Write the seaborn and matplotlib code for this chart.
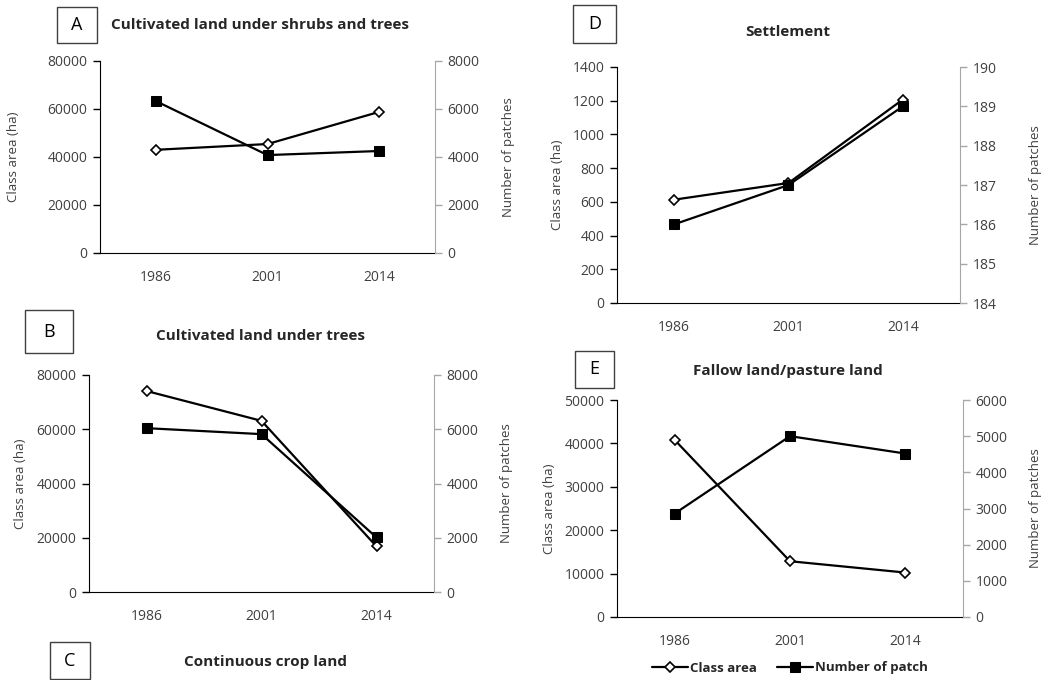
import matplotlib
matplotlib.use("Agg")
import matplotlib.pyplot as plt
from matplotlib.patches import Rectangle
import seaborn as sns
import numpy as np

sns.set_style("white")
plt.rcParams['font.family'] = ['Open Sans', 'DejaVu Sans']

years = ['1986', '2001', '2014']

# A: cultivated land under shrubs and trees
area_a = [43000, 45400, 58800]
patch_a = [6330, 4080, 4250]
# B: cultivated land under trees
area_b = [74100, 63100, 16800]
patch_b = [6040, 5820, 2010]
# D: settlement
area_d = [613, 712, 1207]
patch_d = [186.0, 187.0, 189.0]
# E: fallow land / pasture land
area_e = [40800, 12850, 10240]
patch_e = [2860, 5000, 4520]

W, H = 1047, 680
TXT = '#404040'
GREY = '#a6a6a6'

fig = plt.figure(figsize=(W / 100, H / 100), dpi=100)
fig.patch.set_facecolor('white')


def px_rect(x0, y0, x1, y1):
    # pixel box (top-left origin) -> figure fraction
    return [x0 / W, 1 - y1 / H, (x1 - x0) / W, (y1 - y0) / H]


def letter_box(x0, y0, x1, y1, letter):
    fig.add_artist(Rectangle((x0 / W, 1 - y1 / H), (x1 - x0) / W, (y1 - y0) / H,
                             transform=fig.transFigure, facecolor='white',
                             edgecolor=TXT, linewidth=1.0))
    fig.text((x0 + x1) / 2 / W, 1 - (y0 + y1) / 2 / H, letter, ha='center', va='center',
             fontsize=13, color='black')


def panel(rect, area, patches, ylim, yticks, ylim2, yticks2, lab_x, lab2_x):
    ax = fig.add_axes(rect)
    ax2 = ax.twinx()
    x = np.arange(len(years))
    sns.lineplot(x=x, y=area, ax=ax, color='black', linewidth=1.6, marker='D',
                 markersize=5, markerfacecolor='white', markeredgecolor='black',
                 markeredgewidth=1.2, label='Class area', legend=False)
    sns.lineplot(x=x, y=patches, ax=ax2, color='black', linewidth=1.6, marker='s',
                 markersize=7, markerfacecolor='black', markeredgecolor='black',
                 label='Number of patch', legend=False)
    ax.set_xlim(-0.5, len(years) - 0.5)
    ax.set_ylim(*ylim)
    ax.set_yticks(yticks)
    ax2.set_ylim(*ylim2)
    ax2.set_yticks(yticks2)
    ax.set_xticks(x)
    ax.set_xticklabels(years)
    ax.set_xticks(np.arange(-0.5, len(years), 1.0), minor=True)
    ax.tick_params(axis='x', which='major', length=0, pad=12, labelsize=10, labelcolor=TXT)
    ax.tick_params(axis='x', which='minor', length=5, direction='out', color='black', width=1)
    ax.tick_params(axis='y', length=5, direction='out', color='black', width=1,
                   labelsize=10, labelcolor=TXT, pad=4, left=True)
    ax2.tick_params(axis='y', length=5, direction='out', color=GREY, width=1,
                    labelsize=10, labelcolor=TXT, pad=4, right=True)
    for a in (ax, ax2):
        a.spines['top'].set_visible(False)
        a.grid(False)
    ax.spines['right'].set_visible(False)
    ax2.spines['left'].set_visible(False)
    ax2.spines['bottom'].set_visible(False)
    ax2.spines['right'].set_color(GREY)
    ax.spines['left'].set_color('black')
    ax.spines['bottom'].set_color('black')
    ax.set_ylabel('Class area (ha)', fontsize=9.5, color=TXT)
    ax2.set_ylabel('Number of patches', fontsize=9.5, color=TXT)
    ax.yaxis.set_label_coords(lab_x, 0.5)
    ax2.yaxis.set_label_coords(lab2_x, 0.5)
    return ax, ax2


# panel A
panel(px_rect(100, 61, 435, 253), area_a, patch_a, (0, 80000), np.arange(0, 80001, 20000),
      (0, 8000), np.arange(0, 8001, 2000), -0.24, 1.2)
letter_box(57, 7, 97, 43, 'A')
fig.text(260 / W, 1 - 25 / H, 'Cultivated land under shrubs and trees', ha='center', va='center',
         fontsize=11, fontweight='bold')

# panel B
panel(px_rect(89, 375, 434, 592), area_b, patch_b, (0, 80000), np.arange(0, 80001, 20000),
      (0, 8000), np.arange(0, 8001, 2000), -0.18, 1.19)
letter_box(25, 310, 73, 353, 'B')
fig.text(261 / W, 1 - 336 / H, 'Cultivated land under trees', ha='center', va='center',
         fontsize=11, fontweight='bold')

# panel C (title only)
letter_box(50, 642, 90, 679, 'C')
fig.text(266 / W, 1 - 662 / H, 'Continuous crop land', ha='center', va='center',
         fontsize=11, fontweight='bold')

# panel D
panel(px_rect(617, 67, 960, 303), area_d, patch_d, (0, 1400), np.arange(0, 1401, 200),
      (184, 190), np.arange(184, 191, 1), -0.155, 1.2)
letter_box(573, 5, 616, 43, 'D')
fig.text(788 / W, 1 - 32 / H, 'Settlement', ha='center', va='center',
         fontsize=11, fontweight='bold')

# panel E
axE, axE2 = panel(px_rect(617, 400, 963, 617), area_e, patch_e, (0, 50000), np.arange(0, 50001, 10000),
                  (0, 6000), np.arange(0, 6001, 1000), -0.175, 1.19)
letter_box(575, 351, 614, 388, 'E')
fig.text(788 / W, 1 - 371 / H, 'Fallow land/pasture land', ha='center', va='center',
         fontsize=11, fontweight='bold')

handles = [axE.lines[0], axE2.lines[0]]
fig.legend(handles, ['Class area', 'Number of patch'], loc='center',
           bbox_to_anchor=(790 / W, 1 - 668 / H), ncol=2, frameon=False,
           handlelength=2.7, handletextpad=0.2, columnspacing=1.5,
           prop={'size': 9.5, 'weight': 'bold'})

fig.savefig('out.png', dpi=100, facecolor='white')
